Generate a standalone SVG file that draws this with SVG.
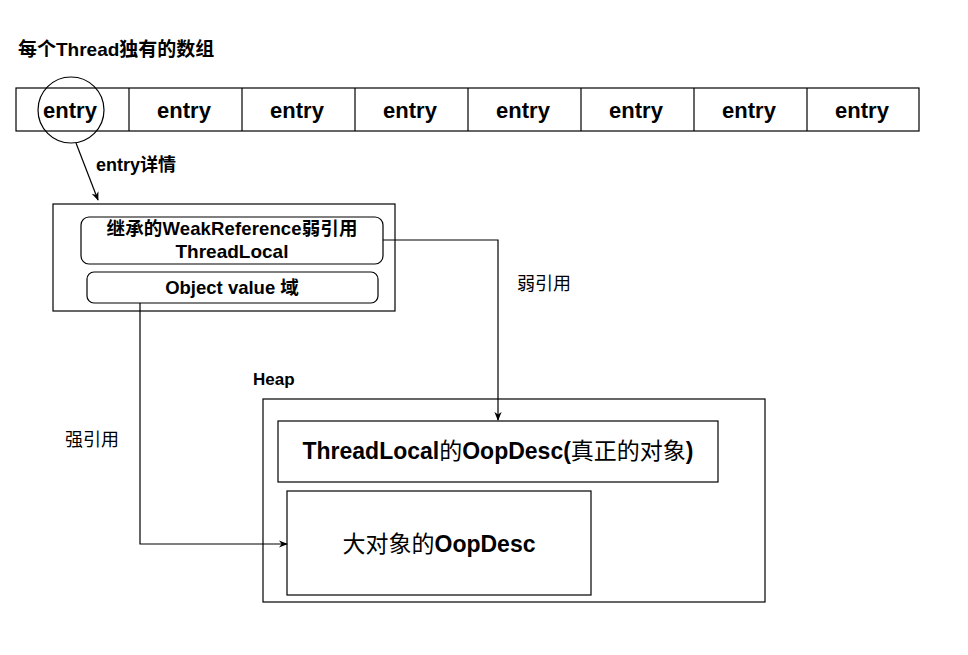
<svg xmlns="http://www.w3.org/2000/svg" width="968" height="655" viewBox="0 0 968 655">
<style>
text{font-family:"Liberation Sans","Noto Sans CJK SC",Arial,sans-serif;fill:#000}
.b{font-weight:bold}
.n{font-weight:normal}
.box{fill:#fff;stroke:#000;stroke-width:1.2}
.ln{fill:none;stroke:#000;stroke-width:1.2}
.e{font-size:22px;font-weight:bold;text-anchor:middle}
</style>
<defs>
<marker id="ah" viewBox="0 0 10 10" refX="9" refY="5" markerWidth="9" markerHeight="9" markerUnits="userSpaceOnUse" orient="auto">
<path d="M0,1 L10,5 L0,9 L3,5 Z" fill="#000"/>
</marker>
</defs>
<rect width="968" height="655" fill="#fff"/>
<text x="18" y="56" class="b" font-size="19">每个Thread独有的数组</text>
<g id="array">
<rect class="box" x="16" y="88" width="903" height="43"/>
<path class="ln" d="M129,88V131M242,88V131M355,88V131M468,88V131M581,88V131M694,88V131M807,88V131"/>
<text class="e" x="70" y="118">entry</text>
<text class="e" x="184" y="118">entry</text>
<text class="e" x="297" y="118">entry</text>
<text class="e" x="410" y="118">entry</text>
<text class="e" x="523" y="118">entry</text>
<text class="e" x="636" y="118">entry</text>
<text class="e" x="749" y="118">entry</text>
<text class="e" x="862" y="118">entry</text>
</g>
<g id="highlight">
<circle class="ln" cx="71" cy="110" r="33"/>
</g>
<g id="entry-detail">
<rect class="box" x="53" y="204" width="342" height="107"/>
<rect class="box" x="81" y="217" width="302" height="47" rx="8"/>
<text x="232" y="235" class="b" font-size="18.5" text-anchor="middle" textLength="251" lengthAdjust="spacing">继承的WeakReference弱引用</text>
<text x="232" y="258" class="b" font-size="19" text-anchor="middle">ThreadLocal</text>
<rect class="box" x="87" y="272" width="291" height="31" rx="7"/>
<text x="232" y="294" class="b" font-size="18.5" text-anchor="middle">Object value 域</text>
</g>
<g id="heap">
<text x="253" y="385" class="b" font-size="17">Heap</text>
<rect class="box" x="263" y="399" width="502" height="203"/>
</g>
<g id="threadlocal-oop">
<rect class="box" x="278" y="421" width="440" height="61"/>
<text x="498" y="459" class="b" font-size="23" text-anchor="middle">ThreadLocal<tspan class="n">的</tspan>OopDesc(<tspan class="n">真正的对象</tspan>)</text>
</g>
<g id="big-oop">
<rect class="box" x="287" y="491" width="304" height="104"/>
<text x="439" y="552" class="b" font-size="23" text-anchor="middle"><tspan class="n">大对象的</tspan>OopDesc</text>
</g>
<g id="connectors">
<path class="ln" d="M76,143 L98,200" marker-end="url(#ah)"/>
<path class="ln" d="M383,240 H498 V420" marker-end="url(#ah)"/>
<path class="ln" d="M140,303 V544 H287" marker-end="url(#ah)"/>
<text x="96" y="171" class="b" font-size="18">entry详情</text>
<text x="517" y="290" font-size="18">弱引用</text>
<text x="65" y="446" font-size="18">强引用</text>
</g>
</svg>
